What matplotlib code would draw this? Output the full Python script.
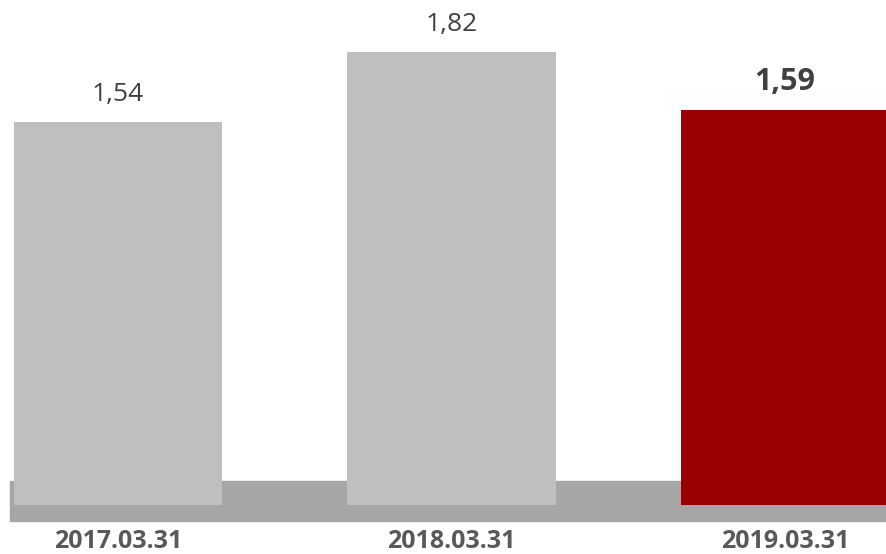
import matplotlib.pyplot as plt

# data
dates = ["2017.03.31", "2018.03.31", "2019.03.31"]
values = [1.54, 1.82, 1.59]
labels = ["1,54", "1,82", "1,59"]
colors = ["#bfbfbf", "#bfbfbf", "#990000"]

plt.rcParams['font.family'] = ['Open Sans', 'DejaVu Sans']

fig = plt.figure(figsize=(8.87, 5.54), dpi=100)
ax = fig.add_axes([0, 0, 1, 1])

x = range(len(values))
# grey floor band behind the bars
ax.axhspan(-0.064, 0.097, xmin=10 / 887, xmax=1, color="#a6a6a6", zorder=1)
ax.bar(x, values, width=0.624, color=colors, zorder=2)

for i, (v, lab) in enumerate(zip(values, labels)):
    last = i == len(values) - 1
    ax.annotate(lab, (i, v), xytext=(0, 20), textcoords="offset points",
                ha="center", va="center", fontsize=22 if last else 19,
                fontweight="bold" if last else "normal", color="#404040")
    ax.annotate(dates[i], (i, 0), xytext=(0, -26), textcoords="offset points",
                ha="center", va="center", fontsize=18, fontweight="bold", color="#595959")

ax.set_xlim(-0.354, 2.306)
ax.set_ylim(-0.197, 2.031)
ax.axis("off")

fig.savefig("out.png", dpi=100)
